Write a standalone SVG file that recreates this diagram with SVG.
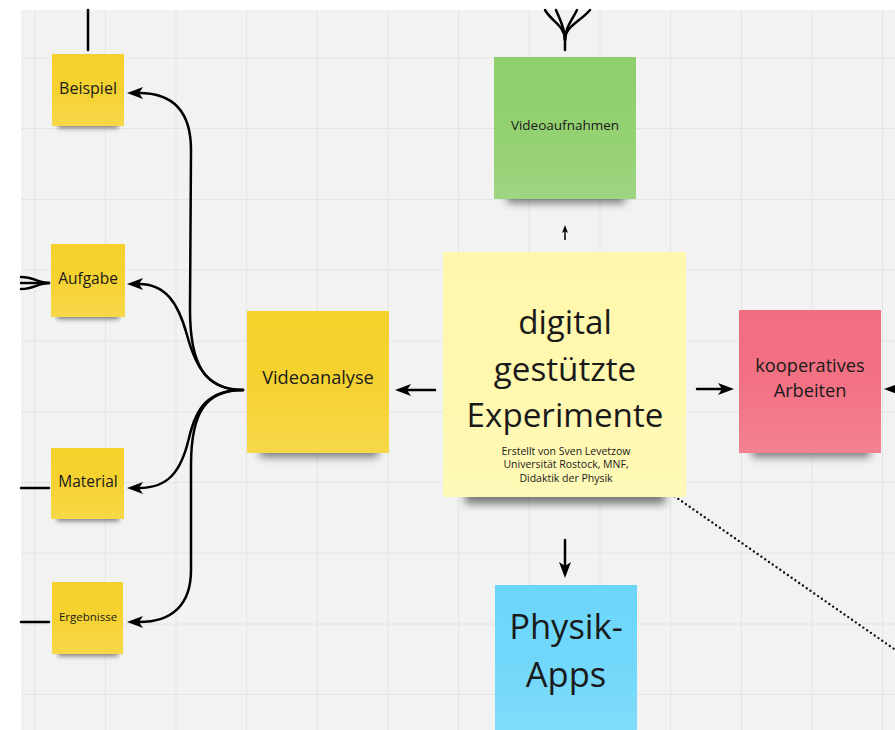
<svg xmlns="http://www.w3.org/2000/svg" width="895" height="730" viewBox="0 0 895 730">
  <style>
    .grid line { stroke: #e4e4e4; stroke-width: 1; }
    .note-text { font-family: "Open Sans", "Noto Sans", "Liberation Sans", sans-serif; fill: #1a1a1a; text-anchor: middle; }
    .conn { fill: none; stroke: #000; stroke-width: 2.5; stroke-linecap: round; }
    .conn-thin { fill: none; stroke: #000; stroke-width: 1.5; }
    .dotted { fill: none; stroke: #111; stroke-width: 2.4; stroke-linecap: round; stroke-dasharray: 0 4.6; }
    .shadow-s { fill: #000; opacity: 0.5; filter: url(#blurS); }
    .shadow-l { fill: #000; opacity: 0.5; filter: url(#blurL); }
    .sheen { fill: url(#sheen); }
  </style>
  <defs>
    <filter id="blurS" x="-30%" y="-200%" width="160%" height="500%">
      <feGaussianBlur stdDeviation="2.5"/>
    </filter>
    <filter id="blurL" x="-30%" y="-200%" width="160%" height="500%">
      <feGaussianBlur stdDeviation="4.5"/>
    </filter>
    <linearGradient id="sheen" x1="0" y1="0" x2="0" y2="1">
      <stop offset="0" stop-color="#fff" stop-opacity="0"/>
      <stop offset="0.5" stop-color="#fff" stop-opacity="0.03"/>
      <stop offset="1" stop-color="#fff" stop-opacity="0.14"/>
    </linearGradient>
    <marker id="arrow" viewBox="0 0 16 12" refX="4" refY="6" markerWidth="16" markerHeight="12" markerUnits="userSpaceOnUse" orient="auto">
      <path d="M0,0 L16,6 L0,12 L4,6 Z" fill="#000"/>
    </marker>
    <marker id="arrow-small" viewBox="0 0 8 6" refX="2" refY="3" markerWidth="8" markerHeight="6" markerUnits="userSpaceOnUse" orient="auto">
      <path d="M0,0 L8,3 L0,6 L2,3 Z" fill="#000"/>
    </marker>
  </defs>

  <!-- board background -->
  <rect x="0" y="0" width="895" height="730" fill="#ffffff"/>
  <rect x="21" y="10" width="874" height="720" fill="#f2f2f2"/>

  <!-- grid -->
  <g class="grid">
    <line x1="35" y1="10" x2="35" y2="730"/>
    <line x1="105.5" y1="10" x2="105.5" y2="730"/>
    <line x1="176" y1="10" x2="176" y2="730"/>
    <line x1="246.5" y1="10" x2="246.5" y2="730"/>
    <line x1="317" y1="10" x2="317" y2="730"/>
    <line x1="388" y1="10" x2="388" y2="730"/>
    <line x1="458.5" y1="10" x2="458.5" y2="730"/>
    <line x1="529" y1="10" x2="529" y2="730"/>
    <line x1="600" y1="10" x2="600" y2="730"/>
    <line x1="670.5" y1="10" x2="670.5" y2="730"/>
    <line x1="741.5" y1="10" x2="741.5" y2="730"/>
    <line x1="812" y1="10" x2="812" y2="730"/>
    <line x1="882.5" y1="10" x2="882.5" y2="730"/>
    <line x1="21" y1="58" x2="895" y2="58"/>
    <line x1="21" y1="128.5" x2="895" y2="128.5"/>
    <line x1="21" y1="199.5" x2="895" y2="199.5"/>
    <line x1="21" y1="270" x2="895" y2="270"/>
    <line x1="21" y1="341" x2="895" y2="341"/>
    <line x1="21" y1="412" x2="895" y2="412"/>
    <line x1="21" y1="482.5" x2="895" y2="482.5"/>
    <line x1="21" y1="553" x2="895" y2="553"/>
    <line x1="21" y1="624" x2="895" y2="624"/>
    <line x1="21" y1="694.5" x2="895" y2="694.5"/>
  </g>

  <!-- connectors -->
  <g id="connectors">
    <!-- lines leaving the board edges -->
    <path class="conn" d="M88,10 L88,50"/>
    <path class="conn" d="M21,277 C34,277 38,283 49,283"/>
    <path class="conn" d="M21,283 L49,283"/>
    <path class="conn" d="M21,289 C34,289 38,283 49,283"/>
    <path class="conn" d="M21,488 L49,488"/>
    <path class="conn" d="M21,622 L49,622"/>
    <path class="conn" d="M545,10 C552,22 565,26 565,40 L565,50"/>
    <path class="conn" d="M556,10 C560,20 565,28 565,40"/>
    <path class="conn" d="M577,10 C572,20 565,28 565,40"/>
    <path class="conn" d="M590,10 C580,22 565,26 565,40"/>

    <!-- Videoanalyse fan -->
    <path class="conn" marker-end="url(#arrow)" d="M243,390 C205,390 190,365 190,310 L191,150 C191,110 172,93 139,93"/>
    <path class="conn" marker-end="url(#arrow)" d="M243,390 C208,390 196,368 187,335 C178,302 165,284 139,284"/>
    <path class="conn" marker-end="url(#arrow)" d="M243,390 C208,390 196,408 189,438 C181,472 168,488 139,488"/>
    <path class="conn" marker-end="url(#arrow)" d="M243,390 C206,390 191,412 191,465 L191,570 C191,605 172,622 139,622"/>

    <!-- from the centre note -->
    <path class="conn" marker-end="url(#arrow)" d="M435,390 L407,390"/>
    <path class="conn" marker-end="url(#arrow)" d="M697,389 L722,389"/>
    <path class="conn" marker-end="url(#arrow)" d="M565,540 L565,566"/>
    <path class="conn-thin" marker-end="url(#arrow-small)" d="M565,240 L565,231"/>
    <path class="conn" marker-end="url(#arrow)" d="M905,389 L896,389"/>

    <!-- dotted link -->
    <path class="dotted" d="M667,491 L897,651"/>
  </g>

  <!-- sticky notes -->
  <g id="beispiel">
    <rect class="shadow-s" x="58" y="117" width="60" height="11"/>
    <rect x="52" y="54" width="72" height="72" fill="#f5d12b"/>
    <rect class="sheen" x="52" y="54" width="72" height="72"/>
    <text class="note-text" x="88" y="94" font-size="16">Beispiel</text>
  </g>

  <g id="aufgabe">
    <rect class="shadow-s" x="57" y="308" width="62" height="11"/>
    <rect x="51" y="244" width="74" height="73" fill="#f5d12b"/>
    <rect class="sheen" x="51" y="244" width="74" height="73"/>
    <text class="note-text" x="88" y="284" font-size="15.5">Aufgabe</text>
  </g>

  <g id="material">
    <rect class="shadow-s" x="57" y="510" width="62" height="11"/>
    <rect x="51" y="448" width="73" height="71" fill="#f5d12b"/>
    <rect class="sheen" x="51" y="448" width="73" height="71"/>
    <text class="note-text" x="88" y="487" font-size="15.5">Material</text>
  </g>

  <g id="ergebnisse">
    <rect class="shadow-s" x="58" y="645" width="60" height="11"/>
    <rect x="52" y="582" width="71" height="72" fill="#f5d12b"/>
    <rect class="sheen" x="52" y="582" width="71" height="72"/>
    <text class="note-text" x="88" y="621" font-size="11.5">Ergebnisse</text>
  </g>

  <g id="videoanalyse">
    <rect class="shadow-l" x="260" y="440" width="118" height="17"/>
    <rect x="247" y="311" width="142" height="142" fill="#f5d12b"/>
    <rect class="sheen" x="247" y="311" width="142" height="142"/>
    <text class="note-text" x="318" y="384" font-size="18.2">Videoanalyse</text>
  </g>

  <g id="videoaufnahmen">
    <rect class="shadow-l" x="507" y="186" width="118" height="17"/>
    <rect x="494" y="57" width="142" height="142" fill="#8fcf6c"/>
    <rect class="sheen" x="494" y="57" width="142" height="142"/>
    <text class="note-text" x="565" y="130" font-size="13.5">Videoaufnahmen</text>
  </g>

  <g id="digital-gestuetzte-experimente">
    <rect class="shadow-l" x="465" y="482" width="200" height="22"/>
    <rect x="443" y="252" width="243" height="245" fill="#fff8ac"/>
    <rect class="sheen" x="443" y="252" width="243" height="245"/>
    <text class="note-text" x="565" y="334" font-size="33.2">digital</text>
    <text class="note-text" x="565" y="381" font-size="33.2">gestützte</text>
    <text class="note-text" x="565" y="427" font-size="33.2">Experimente</text>
    <text class="note-text" x="566" y="455" font-size="10.5">Erstellt von Sven Levetzow</text>
    <text class="note-text" x="566" y="468.3" font-size="10.5">Universität Rostock, MNF,</text>
    <text class="note-text" x="566" y="481.6" font-size="10.5">Didaktik der Physik</text>
  </g>

  <g id="kooperatives-arbeiten">
    <rect class="shadow-l" x="752" y="440" width="118" height="17"/>
    <rect x="739" y="310" width="142" height="143" fill="#f26d80"/>
    <rect class="sheen" x="739" y="310" width="142" height="143"/>
    <text class="note-text" x="810" y="372" font-size="18.2">kooperatives</text>
    <text class="note-text" x="810" y="397" font-size="18.2">Arbeiten</text>
  </g>

  <g id="physik-apps">
    <rect x="495" y="585" width="142" height="145" fill="#6cd6fa"/>
    <rect class="sheen" x="495" y="585" width="142" height="145"/>
    <text class="note-text" x="566" y="639" font-size="34.5">Physik-</text>
    <text class="note-text" x="566" y="687" font-size="34.5">Apps</text>
  </g>
</svg>
